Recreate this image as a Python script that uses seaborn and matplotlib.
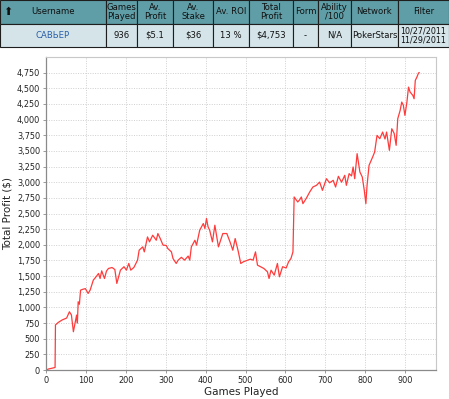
import matplotlib
matplotlib.use('Agg')
import matplotlib.pyplot as plt
import seaborn as sns
import pandas as pd
from matplotlib.ticker import FuncFormatter, MultipleLocator

# stats table
headers = ["Username", "Games\nPlayed", "Av.\nProfit", "Av.\nStake", "Av. ROI",
           "Total\nProfit", "Form", "Ability\n/100", "Network", "Filter"]
row_values = ["САВЬЕР", "936", "$5.1", "$36", "13 %", "$4,753", "-", "N/A",
              "PokerStars", "10/27/2011\n11/29/2011"]
col_px = [106, 31, 36, 40, 36, 44, 25, 33, 47, 51]

# profit curve
games = [0, 5, 12, 18, 22, 23, 30, 40, 51, 58, 63, 68, 76, 78, 80, 83, 86, 92, 98,
         105, 110, 118, 125, 131, 135, 139, 146, 151, 156, 165, 172, 177, 186, 195,
         201, 207, 212, 220, 229, 233, 242, 246, 254, 259, 267, 276, 280, 286, 293,
         301, 305, 314, 318, 326, 331, 339, 347, 356, 360, 364, 373, 377, 385, 394,
         398, 402, 406, 410, 417, 423, 432, 443, 453, 461, 468, 474, 482, 488, 495,
         512, 519, 525, 530, 546, 555, 559, 564, 572, 580, 585, 593, 602, 608, 614,
         619, 622, 631, 636, 640, 644, 652, 661, 669, 678, 686, 693, 703, 711, 720,
         726, 733, 741, 749, 753, 760, 766, 770, 774, 780, 787, 793, 798, 802, 805,
         810, 819, 824, 830, 837, 844, 850, 854, 861, 867, 873, 878, 882, 888, 892,
         896, 900, 905, 909, 913, 920, 923, 926, 930, 934, 936]
profit = [0, 15, 25, 35, 40, 720, 760, 800, 830, 930, 880, 611, 877, 750, 1090, 1050,
          1276, 1290, 1300, 1223, 1276, 1436, 1490, 1542, 1462, 1584, 1462, 1580, 1622,
          1637, 1605, 1383, 1595, 1650, 1595, 1702, 1595, 1640, 1755, 1914, 1967, 1887,
          2126, 2047, 2153, 2073, 2180, 2100, 1994, 1990, 1940, 1887, 1781, 1702, 1755,
          1800, 1755, 1820, 1755, 1967, 2073, 1994, 2233, 2340, 2260, 2420, 2286, 2233,
          2047, 2313, 1967, 2180, 2180, 2047, 1914, 2100, 1887, 1702, 1730, 1770, 1755,
          1887, 1675, 1622, 1569, 1462, 1595, 1515, 1702, 1489, 1650, 1630, 1728, 1781,
          1887, 2764, 2684, 2720, 2764, 2657, 2737, 2843, 2923, 2950, 3002, 2870, 3056,
          2990, 3030, 2923, 3094, 3000, 3110, 2950, 3137, 3100, 3243, 3056, 3456, 3163,
          3083, 2870, 2658, 2950, 3270, 3402, 3482, 3748, 3695, 3801, 3690, 3801, 3509,
          3854, 3780, 3589, 4014, 4147, 4280, 4230, 4067, 4280, 4519, 4440, 4386, 4333,
          4625, 4678, 4742, 4753]

df = pd.DataFrame({"Games Played": games, "Total Profit ($)": profit})

sns.set_style("whitegrid")
plt.rcParams['font.family'] = ['DejaVu Sans']

W, H = 449, 399
fig = plt.figure(figsize=(W / 100, H / 100), dpi=100)

# --- table on top
tax = fig.add_axes([0, 1 - 47 / H, 1, 47 / H])
tax.axis('off')
widths = [w / W for w in col_px]
tbl = tax.table(cellText=[row_values], colLabels=headers, colWidths=widths,
                cellLoc='center', bbox=[0, 0, 1, 1])
tbl.auto_set_font_size(False)
for (r, c), cell in tbl.get_celld().items():
    cell.set_edgecolor('#1e1e1e')
    cell.set_linewidth(0.8)
    cell.set_text_props(fontsize=6.1, color='#111111', linespacing=1.0)
    if r == 0:
        cell.set_facecolor('#5f9ea7')
    else:
        cell.set_facecolor('#d4e4e9')
        if c == 0:
            cell.get_text().set_color('#2a5ea8')
        if c == len(row_values) - 1:
            cell.get_text().set_fontsize(5.8)
tax.text(8 / W, 0.75, '⬆', transform=tax.transAxes, ha='center', va='center',
         fontsize=8, color='#111111')

# --- profit graph
ax = fig.add_axes([46.3 / W, 29 / H, (436 - 46.3) / W, (370 - 57) / H])
sns.lineplot(data=df, x="Games Played", y="Total Profit ($)", ax=ax,
             color='#ff3b3b', linewidth=0.9, estimator=None, sort=False)

ax.set_xlim(0, 978)
ax.set_ylim(0, 5000)
ax.xaxis.set_major_locator(MultipleLocator(100))
ax.set_yticks(range(0, 5000, 250))
ax.yaxis.set_major_formatter(FuncFormatter(lambda v, p: f"{int(v):,}"))
ax.grid(True, color='#cfcfcf', linestyle=(0, (1, 1.5)), linewidth=0.7)
ax.set_facecolor('white')
for side in ['top', 'right']:
    ax.spines[side].set_color('#c8c8c8')
    ax.spines[side].set_linewidth(0.8)
for side in ['left', 'bottom']:
    ax.spines[side].set_color('#8a8a8a')
    ax.spines[side].set_linewidth(0.9)
ax.tick_params(axis='both', which='major', labelsize=5.9, length=2.5, width=0.6,
               color='#8a8a8a', pad=2, labelcolor='#222222', left=True, bottom=True)
ax.set_xlabel("Games Played", fontsize=7.5, color='#222222', labelpad=1)
ax.set_ylabel("Total Profit ($)", fontsize=7.5, color='#222222', labelpad=3)

fig.savefig("out.png", dpi=100)
